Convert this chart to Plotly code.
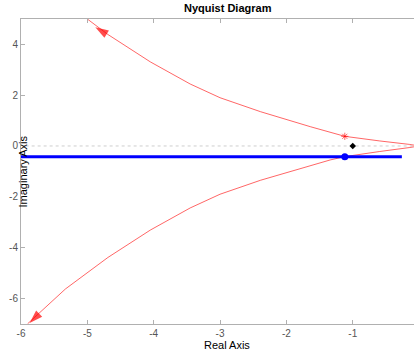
import plotly.graph_objects as go

# Nyquist curve branches
upper_re = [0.0, -0.14, -0.6, -1.12, -1.64, -2.39, -3.0, -3.45, -4.05, -4.69, -5.0, -5.33, -5.9]
upper_im = [0.0, 0.06, 0.2, 0.38, 0.76, 1.35, 1.90, 2.44, 3.31, 4.39, 5.0, 5.63, 7.0]
lower_re = [0.0, -0.14, -0.6, -1.12, -1.34, -2.39, -3.0, -3.45, -4.05, -4.69, -5.33, -5.9]
lower_im = [0.0, -0.06, -0.22, -0.42, -0.55, -1.35, -1.90, -2.44, -3.31, -4.39, -5.63, -7.0]

# arrow markers: tail point (for direction) and arrow tip position
arrow1_re = [-4.55, -4.88]
arrow1_im = [4.15, 4.68]
arrow2_re = [-5.45, -5.87]
arrow2_im = [-5.9, -6.97]

# special points
star_re, star_im = [-1.12], [0.38]
crit_re, crit_im = [-1.0], [0.0]
dot_re, dot_im = [-1.12], [-0.42]
hline_re = [-6.0, -0.26]
hline_im = [-0.42, -0.42]
zero_re = [-5.93, 0.0]
zero_im = [0.0, 0.0]

xticks = [-6, -5, -4, -3, -2, -1]
yticks = [-6, -4, -2, 0, 2, 4]

fig = go.Figure()
fig.add_trace(go.Scatter(x=zero_re, y=zero_im, mode="lines",
                         line=dict(color="#cfcfcf", width=1, dash="dot"), hoverinfo="skip"))
fig.add_trace(go.Scatter(x=upper_re, y=upper_im, mode="lines",
                         line=dict(color="rgba(255,0,0,0.6)", width=1)))
fig.add_trace(go.Scatter(x=lower_re, y=lower_im, mode="lines",
                         line=dict(color="rgba(255,0,0,0.6)", width=1)))
for ax, ay in [(arrow1_re, arrow1_im), (arrow2_re, arrow2_im)]:
    fig.add_trace(go.Scatter(x=ax, y=ay, mode="markers", cliponaxis=False,
                             marker=dict(symbol=["circle", "arrow"], size=[0, 14], color="red",
                                         angleref="previous", line=dict(width=0))))
fig.add_trace(go.Scatter(x=hline_re, y=hline_im, mode="lines",
                         line=dict(color="#0000ff", width=3)))
fig.add_trace(go.Scatter(x=star_re, y=star_im, mode="markers",
                         marker=dict(symbol="asterisk-open", size=6, color="rgba(255,0,0,0.6)",
                                     line=dict(color="rgba(255,0,0,0.6)", width=1))))
fig.add_trace(go.Scatter(x=crit_re, y=crit_im, mode="markers",
                         marker=dict(symbol="diamond", size=5, color="black")))
fig.add_trace(go.Scatter(x=dot_re, y=dot_im, mode="markers",
                         marker=dict(symbol="circle", size=7, color="#0000ff")))

tickfont = dict(family="Liberation Sans, Arial, sans-serif", size=10, color="#555555")
fig.update_layout(
    width=414, height=356,
    margin=dict(l=20.7, r=0, t=19, b=32),
    paper_bgcolor="white", plot_bgcolor="white",
    showlegend=False,
    xaxis=dict(range=[-6, -0.077], tickvals=xticks, ticktext=[str(v) for v in xticks],
               showgrid=False, zeroline=False, showline=True, linecolor="#b0b0b0", linewidth=1,
               mirror="allticks", ticks="inside", ticklen=4, tickcolor="#b0b0b0",
               tickfont=tickfont),
    yaxis=dict(range=[-7.01, 5.0], tickvals=yticks, ticktext=[str(v) for v in yticks],
               showgrid=False, zeroline=False, showline=True, linecolor="#b0b0b0", linewidth=1,
               mirror=False, ticks="inside", ticklen=4, tickcolor="#b0b0b0",
               tickfont=tickfont),
    annotations=[
        dict(text="<b>Nyquist Diagram</b>", xref="paper", yref="paper",
             x=(228 - 20.7) / 393.3, y=1, yshift=11, xanchor="center", yanchor="middle",
             showarrow=False, font=dict(family="Liberation Sans, Arial, sans-serif", size=11, color="black")),
        dict(text="Real Axis", xref="paper", yref="paper",
             x=(227 - 20.7) / 393.3, y=0, yshift=-21, xanchor="center", yanchor="middle",
             showarrow=False, font=dict(family="Liberation Sans, Arial, sans-serif", size=11, color="black")),
        dict(text="Imaginary Axis", xref="paper", yref="paper",
             x=0, y=0.5, xshift=1, xanchor="center", yanchor="middle", textangle=-90,
             showarrow=False, font=dict(family="Liberation Sans, Arial, sans-serif", size=11, color="black")),
    ],
)
fig.write_html("out.html")
